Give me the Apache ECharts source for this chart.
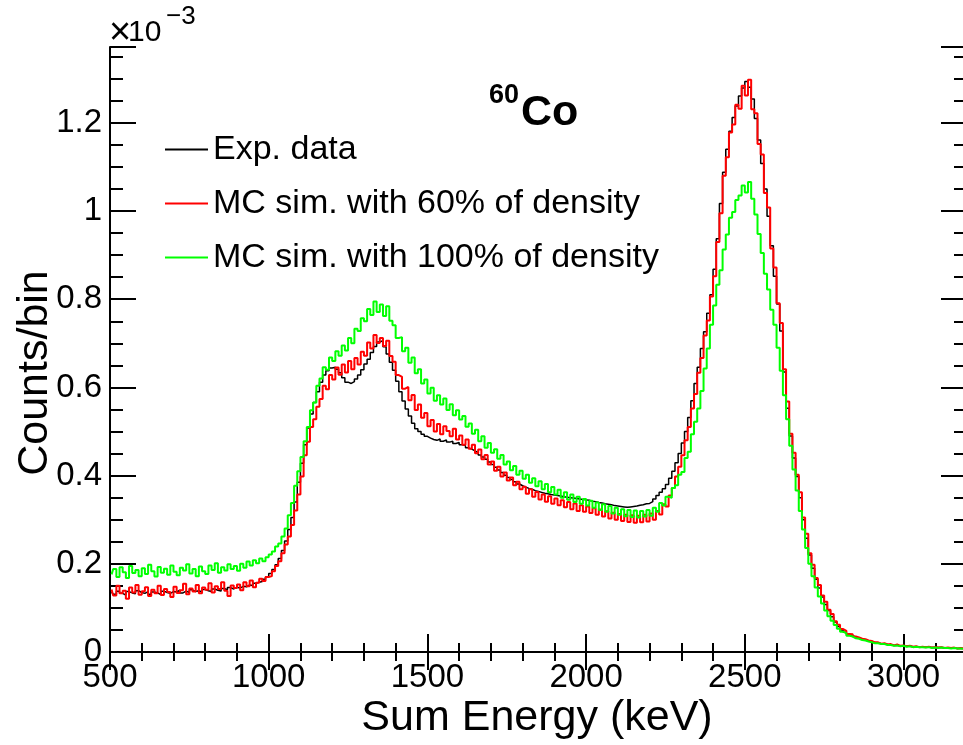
<!DOCTYPE html>
<html>
<head>
<meta charset="utf-8">
<script src="https://cdn.jsdelivr.net/npm/echarts@6/dist/echarts.min.js"></script>
<style>
html,body{margin:0;padding:0;background:#fff;}
#chart{width:963px;height:745px;}
</style>
</head>
<body>
<div id="chart"></div>
<script>
// Bin grid: 10 keV bins starting at 500 keV (values given in units of 1e-3 counts/bin)
const binStart = 500;
const binWidth = 10;

const expData = [
0.136,0.131,0.138,0.133,0.129,0.137,0.134,0.132,0.139,0.135,
0.133,0.137,0.131,0.136,0.134,0.130,0.138,0.135,0.133,0.137,
0.136,0.140,0.134,0.138,0.135,0.141,0.137,0.139,0.136,0.142,
0.139,0.137,0.143,0.140,0.138,0.144,0.141,0.146,0.143,0.147,
0.145,0.149,0.148,0.152,0.151,0.156,0.158,0.160,0.165,0.170,
0.178,0.187,0.198,0.212,0.230,0.252,0.278,0.305,0.340,0.385,
0.428,0.470,0.508,0.540,0.566,0.590,0.612,0.628,0.638,0.644,
0.646,0.641,0.633,0.622,0.612,0.609,0.613,0.619,0.628,0.640,
0.653,0.664,0.679,0.693,0.703,0.706,0.692,0.676,0.657,0.639,
0.614,0.590,0.569,0.551,0.535,0.519,0.506,0.500,0.494,0.489,
0.485,0.482,0.480,0.483,0.478,0.481,0.476,0.478,0.473,0.475,
0.470,0.468,0.463,0.460,0.456,0.452,0.447,0.442,0.437,0.431,
0.425,0.419,0.413,0.407,0.401,0.396,0.391,0.386,0.381,0.377,
0.374,0.371,0.369,0.366,0.364,0.362,0.360,0.359,0.357,0.356,
0.355,0.354,0.352,0.351,0.350,0.349,0.348,0.347,0.346,0.345,
0.344,0.342,0.341,0.339,0.338,0.336,0.335,0.334,0.332,0.331,
0.330,0.329,0.328,0.329,0.330,0.331,0.333,0.334,0.336,0.337,
0.341,0.347,0.355,0.362,0.370,0.380,0.394,0.410,0.429,0.450,
0.474,0.500,0.532,0.570,0.609,0.646,0.688,0.726,0.768,0.810,
0.868,0.937,1.017,1.088,1.140,1.181,1.212,1.238,1.261,1.279,
1.294,1.281,1.254,1.210,1.161,1.108,1.050,0.988,0.921,0.852,
0.789,0.728,0.635,0.553,0.490,0.440,0.398,0.350,0.300,0.258,
0.220,0.190,0.165,0.145,0.125,0.108,0.094,0.080,0.068,0.058,
0.050,0.045,0.040,0.037,0.034,0.031,0.029,0.027,0.025,0.023,
0.021,0.020,0.019,0.018,0.017,0.016,0.015,0.015,0.014,0.014,
0.013,0.013,0.012,0.012,0.012,0.011,0.011,0.011,0.010,0.010,
0.010,0.010,0.009,0.009,0.009,0.009,0.008,0.008,0.008,0.008
];

const mc60 = [
0.142,0.128,0.150,0.133,0.139,0.121,0.146,0.135,0.152,0.130,
0.138,0.147,0.127,0.141,0.133,0.150,0.129,0.143,0.136,0.125,
0.148,0.134,0.140,0.155,0.131,0.144,0.137,0.152,0.133,0.146,
0.141,0.156,0.135,0.149,0.143,0.158,0.139,0.127,0.151,0.145,
0.153,0.140,0.158,0.149,0.162,0.147,0.157,0.166,0.161,0.170,
0.172,0.183,0.195,0.206,0.224,0.244,0.262,0.288,0.321,0.357,
0.398,0.446,0.477,0.510,0.528,0.556,0.574,0.604,0.596,0.628,
0.618,0.645,0.629,0.652,0.634,0.660,0.641,0.667,0.652,0.681,
0.672,0.702,0.688,0.719,0.701,0.712,0.694,0.706,0.671,0.658,
0.628,0.624,0.597,0.601,0.571,0.583,0.549,0.561,0.531,0.542,
0.512,0.526,0.500,0.517,0.494,0.512,0.501,0.489,0.506,0.482,
0.491,0.470,0.482,0.461,0.470,0.451,0.459,0.437,0.447,0.425,
0.432,0.411,0.420,0.398,0.407,0.389,0.396,0.378,0.386,0.369,
0.375,0.359,0.369,0.352,0.363,0.346,0.357,0.341,0.353,0.336,
0.348,0.333,0.344,0.328,0.340,0.324,0.337,0.320,0.333,0.318,
0.330,0.315,0.326,0.311,0.323,0.307,0.319,0.303,0.316,0.300,
0.313,0.297,0.311,0.295,0.310,0.293,0.309,0.294,0.311,0.296,
0.314,0.300,0.320,0.312,0.335,0.330,0.355,0.372,0.398,0.420,
0.446,0.480,0.510,0.552,0.585,0.633,0.667,0.718,0.752,0.806,
0.852,0.930,0.995,1.080,1.122,1.178,1.196,1.241,1.232,1.284,
1.262,1.298,1.231,1.222,1.152,1.128,1.041,1.008,0.915,0.872,
0.791,0.746,0.641,0.568,0.495,0.452,0.402,0.362,0.305,0.268,
0.224,0.198,0.168,0.152,0.128,0.114,0.096,0.086,0.070,0.062,
0.052,0.048,0.041,0.040,0.035,0.033,0.030,0.029,0.026,0.025,
0.022,0.022,0.019,0.020,0.017,0.018,0.015,0.017,0.014,0.015,
0.013,0.014,0.012,0.013,0.011,0.012,0.011,0.012,0.010,0.011,
0.010,0.011,0.009,0.010,0.009,0.010,0.008,0.009,0.008,0.009
];

const mc100 = [
0.176,0.188,0.170,0.192,0.181,0.168,0.195,0.179,0.186,0.172,
0.190,0.177,0.198,0.183,0.171,0.193,0.180,0.189,0.175,0.196,
0.182,0.174,0.191,0.185,0.199,0.178,0.188,0.172,0.194,0.183,
0.177,0.196,0.186,0.201,0.180,0.192,0.185,0.199,0.188,0.195,
0.184,0.200,0.191,0.205,0.196,0.208,0.201,0.212,0.206,0.215,
0.221,0.228,0.239,0.246,0.262,0.280,0.310,0.338,0.377,0.410,
0.442,0.478,0.510,0.548,0.566,0.604,0.620,0.646,0.640,0.668,
0.660,0.682,0.672,0.695,0.684,0.712,0.700,0.733,0.728,0.757,
0.750,0.778,0.764,0.795,0.771,0.788,0.762,0.784,0.751,0.741,
0.712,0.714,0.682,0.690,0.656,0.668,0.632,0.641,0.609,0.618,
0.586,0.599,0.570,0.582,0.561,0.575,0.549,0.562,0.537,0.548,
0.527,0.535,0.511,0.518,0.495,0.504,0.478,0.489,0.463,0.474,
0.452,0.460,0.438,0.447,0.425,0.432,0.412,0.422,0.402,0.411,
0.393,0.402,0.384,0.394,0.376,0.387,0.369,0.381,0.362,0.374,
0.357,0.368,0.350,0.362,0.345,0.357,0.340,0.352,0.336,0.347,
0.332,0.343,0.327,0.339,0.322,0.335,0.318,0.331,0.314,0.327,
0.311,0.324,0.308,0.322,0.306,0.321,0.305,0.320,0.307,0.322,
0.309,0.327,0.318,0.338,0.332,0.352,0.350,0.372,0.378,0.402,
0.408,0.440,0.454,0.494,0.522,0.552,0.592,0.643,0.688,0.742,
0.786,0.833,0.866,0.913,0.947,0.985,0.998,1.025,1.035,1.058,
1.042,1.066,1.028,0.992,0.948,0.905,0.858,0.822,0.776,0.742,
0.690,0.638,0.582,0.528,0.468,0.414,0.366,0.320,0.278,0.236,
0.200,0.172,0.146,0.126,0.110,0.094,0.081,0.071,0.061,0.053,
0.046,0.042,0.037,0.035,0.031,0.030,0.027,0.026,0.024,0.022,
0.020,0.020,0.018,0.018,0.016,0.016,0.014,0.015,0.013,0.014,
0.012,0.013,0.011,0.012,0.011,0.011,0.010,0.011,0.009,0.010,
0.009,0.010,0.009,0.009,0.008,0.009,0.008,0.008,0.007,0.008
];

const seriesNames = ['Exp. data', 'MC sim. with 60% of density', 'MC sim. with 100% of density'];
const seriesColors = ['#000000', '#ff0000', '#00ff00'];
const xTitle = 'Sum Energy (keV)';
const yTitle = 'Counts/bin';

const xMin = 500, xMax = 3200, xInterval = 500;
const yMin = 0, yMax = 1.372, yInterval = 0.2;

function toPairs(arr) {
  return arr.map((v, i) => [binStart + binWidth * i + binWidth / 2, v]);
}

const FONT = "'Liberation Sans', Arial, Helvetica, sans-serif";
const chart = echarts.init(document.getElementById('chart'), null, {renderer: 'canvas'});

const axisCommon = {
  axisLine: {show: true, lineStyle: {color: '#000', width: 2}},
  splitLine: {show: false},
};

const option = {
  animation: false,
  backgroundColor: '#fff',
  grid: {left: 110, top: 47, width: 857, height: 605, containLabel: false, outerBoundsMode: 'none'},
  legend: {
    orient: 'vertical',
    left: 160,
    top: 127,
    itemWidth: 43,
    itemHeight: 2,
    itemGap: 19,
    icon: 'rect',
    data: seriesNames,
    textStyle: {fontFamily: FONT, fontSize: 34, color: '#000', lineHeight: 35}
  },
  xAxis: [
    Object.assign({}, axisCommon, {
      type: 'value', min: xMin, max: xMax, interval: xInterval, position: 'bottom',
      axisTick: {show: true, inside: true, length: 18, lineStyle: {color: '#000', width: 2}},
      minorTick: {show: true, splitNumber: 5, length: 9, lineStyle: {color: '#000', width: 2}},
      axisLabel: {show: true, margin: 9, fontFamily: FONT, fontSize: 33, color: '#000', showMaxLabel: false,
        formatter: v => String(v)}
    }),
    Object.assign({}, axisCommon, {
      type: 'value', min: xMin, max: xMax, interval: xInterval, position: 'top',
      axisTick: {show: true, inside: true, length: 18, lineStyle: {color: '#000', width: 2}},
      minorTick: {show: true, splitNumber: 5, length: 9, lineStyle: {color: '#000', width: 2}},
      axisLabel: {show: false}
    })
  ],
  yAxis: [
    Object.assign({}, axisCommon, {
      type: 'value', min: yMin, max: yMax, interval: yInterval, position: 'left',
      axisTick: {show: true, inside: true, length: 26, lineStyle: {color: '#000', width: 2}},
      minorTick: {show: true, splitNumber: 4, length: 13, lineStyle: {color: '#000', width: 2}},
      axisLabel: {show: true, margin: 8, fontFamily: FONT, fontSize: 33, color: '#000', showMaxLabel: false,
        formatter: v => String(+v.toFixed(1))}
    }),
    Object.assign({}, axisCommon, {
      type: 'value', min: yMin, max: yMax, interval: yInterval, position: 'right',
      axisTick: {show: true, inside: true, length: 26, lineStyle: {color: '#000', width: 2}},
      minorTick: {show: true, splitNumber: 4, length: 13, lineStyle: {color: '#000', width: 2}},
      axisLabel: {show: false}
    })
  ],
  graphic: [
    {type: 'text', x: 537, y: 718, style: {text: xTitle, fontFamily: FONT, fontSize: 43, fill: '#000', align: 'center', verticalAlign: 'middle'}},
    {type: 'text', x: 35, y: 373, rotation: Math.PI / 2, style: {text: yTitle, fontFamily: FONT, fontSize: 43, fill: '#000', align: 'center', verticalAlign: 'middle'}},
    {type: 'text', x: 109, y: 34, style: {text: '×', fontFamily: FONT, fontSize: 38, fill: '#000', verticalAlign: 'middle'}},
    {type: 'text', x: 128, y: 48, style: {text: '10', fontFamily: FONT, fontSize: 30, fill: '#000', verticalAlign: 'bottom'}},
    {type: 'text', x: 166, y: 4, style: {text: '−3', fontFamily: FONT, fontSize: 26, fill: '#000', verticalAlign: 'top'}},
    {type: 'text', x: 489, y: 82, style: {text: '60', fontFamily: FONT, fontWeight: 'bold', fontSize: 27, fill: '#000', verticalAlign: 'top'}},
    {type: 'text', x: 521, y: 92, style: {text: 'Co', fontFamily: FONT, fontWeight: 'bold', fontSize: 43, fill: '#000', verticalAlign: 'top'}}
  ],
  series: [
    {name: seriesNames[0], type: 'line', step: 'middle', showSymbol: false, data: toPairs(expData),
     lineStyle: {color: seriesColors[0], width: 1.5}, itemStyle: {color: seriesColors[0]}, z: 2},
    {name: seriesNames[1], type: 'line', step: 'middle', showSymbol: false, data: toPairs(mc60),
     lineStyle: {color: seriesColors[1], width: 2}, itemStyle: {color: seriesColors[1]}, z: 3},
    {name: seriesNames[2], type: 'line', step: 'middle', showSymbol: false, data: toPairs(mc100),
     lineStyle: {color: seriesColors[2], width: 2}, itemStyle: {color: seriesColors[2]}, z: 4}
  ]
};
chart.setOption(option);
</script>
</body>
</html>
